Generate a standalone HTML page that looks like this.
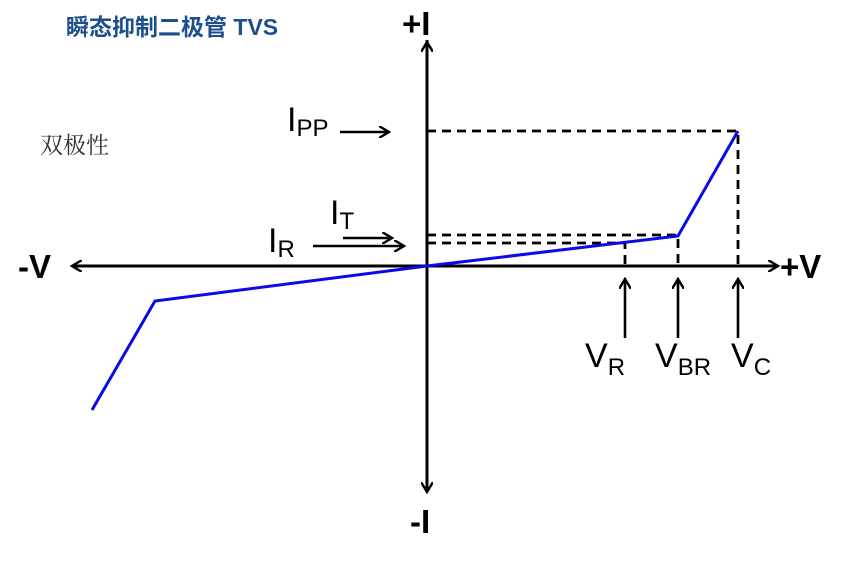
<!DOCTYPE html>
<html><head><meta charset="utf-8"><style>
body{margin:0;background:#fff;width:860px;height:569px;overflow:hidden}
</style></head><body>
<svg width="860" height="569" xmlns="http://www.w3.org/2000/svg" style="position:absolute;left:0;top:0">
<defs>
<marker id="a" markerWidth="12" markerHeight="12" refX="10" refY="6" orient="auto" markerUnits="userSpaceOnUse">
<path d="M0,0 L10,6 L0,12" fill="none" stroke="#000" stroke-width="2.4"/>
</marker>
</defs>
<text x="66" y="35" font-family="Liberation Sans, Noto Sans CJK SC, sans-serif" font-weight="bold" font-size="23" fill="#1f4e8c">瞬态抑制二极管 TVS</text>
<text x="40" y="153" font-family="Noto Serif CJK SC, serif" font-size="23" fill="#333">双极性</text>
<g stroke="#000" stroke-width="3" fill="none">
<line x1="427" y1="492" x2="427" y2="42" marker-end="url(#a)"/>
<line x1="427" y1="40" x2="427" y2="492" marker-end="url(#a)"/>
<line x1="72" y1="266" x2="778" y2="266" marker-end="url(#a)"/>
<line x1="778" y1="266" x2="72" y2="266" marker-end="url(#a)"/>
</g>
<g stroke="#000" stroke-width="2.8" fill="none" stroke-dasharray="9,6">
<polyline points="427,131 738,131 738,266"/>
<polyline points="427,235 678,235 678,266"/>
<polyline points="427,243 625,243 625,266"/>
</g>
<polyline points="92,410 155,301 427,266 678,236 738,131" fill="none" stroke="#0a0ae6" stroke-width="3"/>
<g stroke="#000" stroke-width="2.6" fill="none">
<line x1="340" y1="132" x2="389" y2="132" marker-end="url(#a)"/>
<line x1="343" y1="238" x2="392" y2="238" marker-end="url(#a)"/>
<line x1="313" y1="246" x2="404" y2="246" marker-end="url(#a)"/>
<line x1="625" y1="338" x2="625" y2="279" marker-end="url(#a)"/>
<line x1="678" y1="338" x2="678" y2="279" marker-end="url(#a)"/>
<line x1="738" y1="338" x2="738" y2="279" marker-end="url(#a)"/>
</g>
<g font-family="Liberation Sans, sans-serif" fill="#000">
<text x="402" y="35" font-size="33" font-weight="bold">+I</text>
<text x="410" y="533" font-size="33" font-weight="bold">-I</text>
<text x="18" y="278" font-size="33" font-weight="bold">-V</text>
<text x="780" y="278" font-size="33" font-weight="bold">+V</text>
<text x="287" y="131" font-size="34">I<tspan font-size="24" dy="5">PP</tspan></text>
<text x="330" y="224" font-size="34">I<tspan font-size="24" dy="5">T</tspan></text>
<text x="268" y="252" font-size="34">I<tspan font-size="24" dy="5">R</tspan></text>
<text x="585" y="367" font-size="34">V<tspan font-size="24" dy="8">R</tspan></text>
<text x="655" y="367" font-size="34">V<tspan font-size="24" dy="8">BR</tspan></text>
<text x="731" y="367" font-size="34">V<tspan font-size="24" dy="8">C</tspan></text>
</g>
</svg>
</body></html>
